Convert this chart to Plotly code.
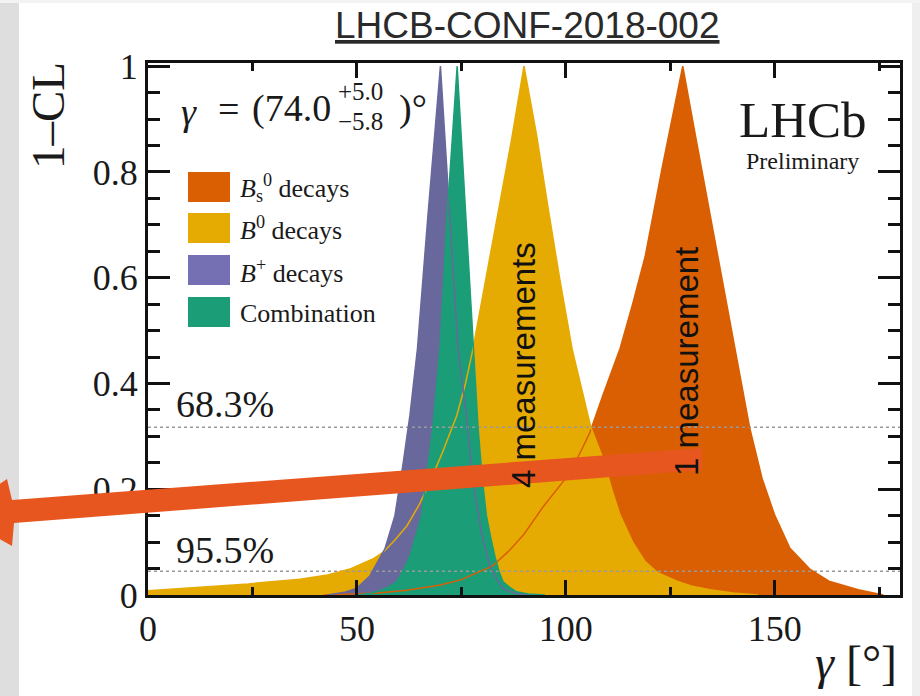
import plotly.graph_objects as go

# ---------------- data ----------------
gamma_bs = [42, 55, 62, 70, 75, 82.5, 86.6, 90, 94.5, 98, 101, 103.5, 105.7, 109, 113, 116, 119, 123.2, 128,
            131, 134, 137, 140.4, 144, 147, 150, 153.6, 158.4, 163, 170, 176]
cl_bs = [0.0, 0.004, 0.009, 0.019, 0.029, 0.055, 0.085, 0.115, 0.166, 0.2, 0.231, 0.27, 0.306, 0.38, 0.466, 0.55, 0.64, 0.813, 1.0,
         0.87, 0.742, 0.613, 0.466, 0.317, 0.22, 0.151, 0.089, 0.049, 0.026, 0.01, 0.0]

gamma_b0 = [0, 12, 24, 36.4, 43, 48.3, 51, 53.8, 56.3, 59, 62, 65, 67.5, 70.5, 73.9, 76, 77.8, 80.5, 83.7, 87, 90,
            93, 95.8, 98.5, 101.5, 104, 106, 108.9, 111, 113, 116, 119, 122, 126.6, 130, 134.5, 140, 146]
cl_b0 = [0.008, 0.015, 0.021, 0.03, 0.038, 0.049, 0.058, 0.068, 0.081, 0.103, 0.131, 0.172, 0.214, 0.27, 0.339, 0.4, 0.466, 0.58, 0.717, 0.86, 1.0,
         0.87, 0.73, 0.6, 0.466, 0.38, 0.317, 0.258, 0.2, 0.151, 0.1, 0.063, 0.042, 0.026, 0.017, 0.01, 0.004, 0.0]

gamma_bp = [43, 47, 50, 53.1, 56.7, 59.1, 61, 62.7, 64.5, 67, 70,
            72.2, 74.2, 76.2, 77.8, 79.8, 81.8, 83.5, 85, 88, 92]
cl_bp = [0.0, 0.005, 0.013, 0.036, 0.087, 0.15, 0.245, 0.34, 0.466, 0.717, 1.0,
         0.717, 0.466, 0.339, 0.214, 0.119, 0.055, 0.03, 0.011, 0.003, 0.0]

gamma_comb = [50, 53, 55.5, 57.5, 59.5, 61, 62.7, 64, 65.5, 66.8, 68.2, 69.9, 71.6, 74,
              76.1, 77.8, 79, 80, 81, 82, 83, 84, 85, 86.5, 88.2, 91, 95]
cl_comb = [0.0, 0.003, 0.008, 0.015, 0.025, 0.045, 0.074, 0.11, 0.15, 0.23, 0.317, 0.466, 0.717, 1.0,
           0.717, 0.466, 0.317, 0.22, 0.15, 0.11, 0.074, 0.045, 0.025, 0.015, 0.006, 0.002, 0.0]

series_names = ["Bs", "B0", "Bplus", "Combination"]
legend_labels = ["<i>B</i><sub>s</sub><sup>0</sup> decays", "<i>B</i><sup>0</sup> decays",
                 "<i>B</i><sup>+</sup> decays", "Combination"]
cl_levels = [0.317, 0.045]
cl_labels = ["68.3%", "95.5%"]
x_range = [0, 180]
y_range = [0, 1.006]
x_ticks = [0, 50, 100, 150]
y_ticks = [0, 0.2, 0.4, 0.6, 0.8, 1.0]
y_ticktext = ["0", "0.2", "0.4", "0.6", "0.8", "1"]

# ---------------- styling ----------------
fill_colors = ["#D95F02", "#E6AB02", "#68689C", "#1B9E77"]
legend_colors = ["#D95F02", "#E6AB02", "#7570B3", "#1B9E77"]
SERIF = "Liberation Serif, Times New Roman, serif"
SANS = "Liberation Sans, Arial, sans-serif"

W, H = 920, 696
L, R, T, B = 148, 900, 63, 595


def px(x):
    return (x - L) / (R - L)


def py(y):
    return (B - y) / (B - T)


fig = go.Figure()
xs_all = [gamma_bs, gamma_b0, gamma_bp, gamma_comb]
ys_all = [cl_bs, cl_b0, cl_bp, cl_comb]

for name, xs, ys, c in zip(series_names, xs_all, ys_all, fill_colors):
    fig.add_trace(go.Scatter(x=xs, y=ys, mode="lines", fill="tozeroy", fillcolor=c,
                             line=dict(width=0, color=c), name=name, showlegend=False,
                             hoverinfo="skip"))

for lvl in cl_levels:
    fig.add_trace(go.Scatter(x=x_range, y=[lvl, lvl], mode="lines",
                             line=dict(color="#9a9a9a", width=1.5, dash="dot"),
                             showlegend=False, hoverinfo="skip"))

for name, xs, ys, c in zip(series_names, xs_all, ys_all, fill_colors):
    fig.add_trace(go.Scatter(x=xs, y=ys, mode="lines", line=dict(width=1.5, color=c),
                             showlegend=False, hoverinfo="skip"))

shapes = []
# slide background strips
shapes.append(dict(type="rect", xref="paper", yref="paper", x0=px(0), x1=px(19), y0=py(0), y1=py(H),
                   fillcolor="#dedede", line=dict(width=0), layer="above"))
shapes.append(dict(type="rect", xref="paper", yref="paper", x0=px(912), x1=px(W), y0=py(0), y1=py(H),
                   fillcolor="#efefef", line=dict(width=0), layer="above"))
shapes.append(dict(type="rect", xref="paper", yref="paper", x0=px(0), x1=px(W), y0=py(0), y1=py(3),
                   fillcolor="#f3f3f3", line=dict(width=0), layer="above"))

# legend boxes
box_tops = [172, 213, 255, 297]
for top, c in zip(box_tops, legend_colors):
    shapes.append(dict(type="rect", xref="paper", yref="paper", x0=px(188), x1=px(230),
                       y0=py(top + 30), y1=py(top), fillcolor=c, line=dict(width=0), layer="above"))

# overlay arrow
arrow_pts = [(702, 448), (12, 500), (7, 479), (-45, 514), (12, 546), (14, 523), (702, 470)]
path = "M " + " L ".join(f"{px(a):.5f},{py(b):.5f}" for a, b in arrow_pts) + " Z"
shapes.append(dict(type="path", xref="paper", yref="paper", path=path, fillcolor="#E8561F",
                   line=dict(width=0), layer="above"))

ann = []


def add_text(text, x, y, size, family=SERIF, xanchor="center", yanchor="middle", angle=0, color="#1a1a1a"):
    ann.append(dict(text=text, x=px(x), y=py(y), xref="paper", yref="paper", showarrow=False,
                    xanchor=xanchor, yanchor=yanchor, textangle=angle,
                    font=dict(family=family, size=size, color=color)))


add_text("<u>LHCB-CONF-2018-002</u>", 527, 26, 37, family=SANS, color="#2a2a2a")
add_text("1\u2013CL", 48, 116, 47, angle=-90)
add_text("<i>\u03b3</i> [\u00b0]", 856, 662, 48)
add_text("<i>\u03b3</i>", 189, 112, 38)
add_text("=", 228, 109, 38)
add_text("(74.0", 333, 109, 38, xanchor="right")
add_text("+5.0", 336, 91, 25, xanchor="left")
add_text("\u22125.8", 336, 122, 25, xanchor="left")
add_text(")\u00b0", 397, 108, 38, xanchor="left")
add_text("LHCb", 803, 120, 51)
add_text("Preliminary", 802, 161, 24)
for top, lab in zip(box_tops, legend_labels):
    add_text(lab, 238, top + 16, 26, xanchor="left")
add_text(cl_labels[0], 174, 404, 38, xanchor="left")
add_text(cl_labels[1], 174, 550, 38, xanchor="left")
add_text("4 measurements", 523, 365, 33, family=SANS, angle=-90, color="#111")
add_text("1 measurement", 686, 362, 33, family=SANS, angle=-90, color="#111")

axis_common = dict(showline=True, linecolor="#111", linewidth=3, mirror="allticks",
                   ticks="inside", tickcolor="#111", showgrid=False, zeroline=False,
                   tickfont=dict(family=SERIF, size=36, color="#1a1a1a"))

fig.update_layout(
    width=W, height=H,
    margin=dict(l=L, r=W - R, t=T, b=H - B),
    paper_bgcolor="white", plot_bgcolor="white",
    showlegend=False,
    xaxis=dict(range=x_range, tickvals=x_ticks, ticklen=15, tickwidth=3,
               minor=dict(tickvals=[25, 75, 125, 175], ticklen=8, tickwidth=2.5, ticks="inside", tickcolor="#111"),
               **axis_common),
    yaxis=dict(range=y_range, tickvals=y_ticks, ticktext=y_ticktext, ticklen=22, tickwidth=3,
               minor=dict(dtick=0.05, ticklen=12, tickwidth=2.5, ticks="inside", tickcolor="#111"),
               **axis_common),
    shapes=shapes,
    annotations=ann,
)

fig.write_html("out.html")
